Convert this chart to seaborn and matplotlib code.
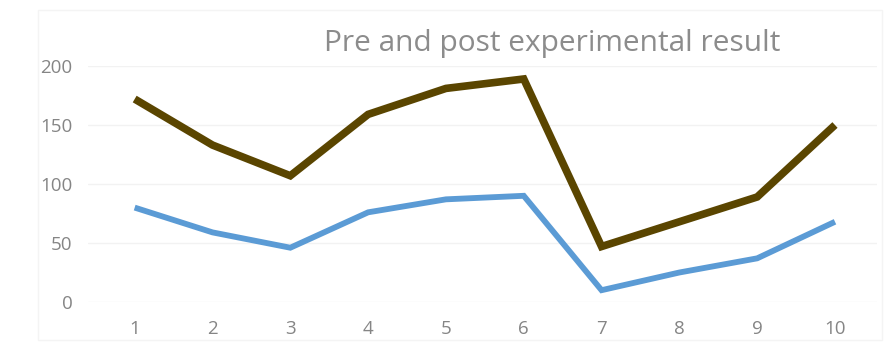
import matplotlib
matplotlib.use("Agg")
import matplotlib.pyplot as plt
import seaborn as sns
import pandas as pd
from matplotlib.patches import Rectangle

categories = [1, 2, 3, 4, 5, 6, 7, 8, 9, 10]
post_values = [172, 133, 107, 159, 181, 189, 47, 68, 89, 150]
pre_values = [80, 59, 46, 76, 87, 90, 10, 25, 37, 68]
y_ticks = [0, 50, 100, 150, 200]
title = "Pre and post experimental result"

sns.set_theme(style="white")
plt.rcParams['font.family'] = ['Open Sans', 'DejaVu Sans']

W, H = 886, 345
fig = plt.figure(figsize=(W / 100, H / 100), dpi=100)
fig.patch.set_facecolor("white")

# faint chart-area border
fig.add_artist(Rectangle((38 / W, 1 - 340 / H), (882 - 38) / W, (340 - 10) / H,
                         transform=fig.transFigure, fill=False,
                         edgecolor="#f4f4f4", linewidth=1))

ax = fig.add_axes([88 / W, 1 - 302 / H, (877 - 88) / W, (302 - 66) / H])

df = pd.DataFrame({"x": categories + categories,
                   "y": post_values + pre_values,
                   "series": ["post"] * len(categories) + ["pre"] * len(categories)})

sns.lineplot(data=df[df.series == "pre"], x="x", y="y", ax=ax,
             color="#5b9bd5", linewidth=4.2, legend=False)
sns.lineplot(data=df[df.series == "post"], x="x", y="y", ax=ax,
             color="#5a4500", linewidth=5.5, legend=False)

ax.set_xlim(0.4, 10.54)
ax.set_ylim(0, 200)
ax.set_xticks(categories)
ax.set_xticklabels([str(c) for c in categories])
ax.set_yticks(y_ticks)
ax.set_yticklabels([str(v) for v in y_ticks])
ax.set_xlabel("")
ax.set_ylabel("")
for s in ax.spines.values():
    s.set_visible(False)
ax.grid(axis="y", color="#f2f2f2", linewidth=1)
ax.set_axisbelow(True)
ax.tick_params(axis="both", length=0, labelsize=13.5, colors="#858585")
ax.tick_params(axis="x", pad=13)
ax.tick_params(axis="y", pad=11)
for line in ax.lines:
    line.set_clip_on(False)
    line.set_solid_joinstyle("miter")
    line.set_solid_capstyle("butt")

fig.text(552 / W, 1 - 44 / H, title, ha="center", va="center",
         fontsize=21.5, color="#8c8c8c")

fig.savefig("out.png", dpi=100, facecolor="white")
